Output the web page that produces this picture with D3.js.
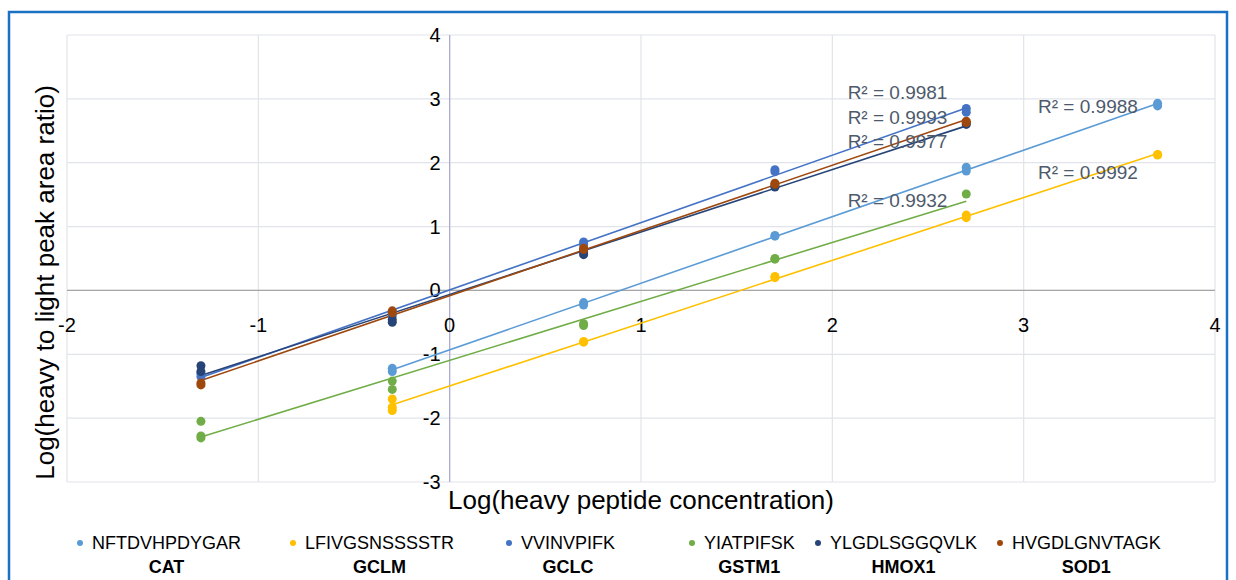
<!DOCTYPE html>
<html>
<head>
<meta charset="utf-8">
<script src="https://cdn.jsdelivr.net/npm/d3@7"></script>
<style>
  body { margin: 0; background: #fff; }
  svg { display: block; font-family: "Liberation Sans", Arial, sans-serif; }
</style>
</head>
<body>
<div id="chart"></div>
<script>
// peptides and the proteins they come from
const peptides = ['NFTDVHPDYGAR', 'LFIVGSNSSSSTR', 'VVINVPIFK', 'YIATPIFSK', 'YLGDLSGGQVLK', 'HVGDLGNVTAGK'];
const genes = ['CAT', 'GCLM', 'GCLC', 'GSTM1', 'HMOX1', 'SOD1'];
const colors = ['#5b9bd5', '#ffc000', '#4472c4', '#70ad47', '#264478', '#9e480e'];
const rSquared = ['0.9988', '0.9992', '0.9981', '0.9932', '0.9977', '0.9993'];

// [log heavy concentration, log heavy/light ratio]
const catPts = [[-0.3, -1.22], [-0.3, -1.27], [0.7, -0.19], [0.7, -0.23], [1.7, 0.85], [1.7, 0.86],
  [2.7, 1.93], [2.7, 1.87], [3.7, 2.93], [3.7, 2.89]];
const gclmPts = [[-0.3, -1.70], [-0.3, -1.83], [-0.3, -1.88], [0.7, -0.80], [0.7, -0.81], [1.7, 0.22], [1.7, 0.20],
  [2.7, 1.18], [2.7, 1.14], [3.7, 2.12], [3.7, 2.13]];
const gclcPts = [[-1.3, -1.30], [-1.3, -1.35], [-0.3, -0.36], [-0.3, -0.40], [0.7, 0.76], [0.7, 0.72],
  [1.7, 1.89], [1.7, 1.86], [2.7, 2.85], [2.7, 2.79]];
const gstm1Pts = [[-1.3, -2.05], [-1.3, -2.28], [-1.3, -2.31], [-0.3, -1.42], [-0.3, -1.55], [0.7, -0.52], [0.7, -0.55],
  [1.7, 0.49], [1.7, 0.50], [2.7, 1.51]];
const hmox1Pts = [[-1.3, -1.18], [-1.3, -1.27], [-0.3, -0.46], [-0.3, -0.50], [0.7, 0.56], [0.7, 0.60],
  [1.7, 1.62], [1.7, 1.63], [2.7, 2.60], [2.7, 2.62]];
const sod1Pts = [[-1.3, -1.45], [-1.3, -1.48], [-0.3, -0.32], [-0.3, -0.35], [0.7, 0.66], [0.7, 0.64],
  [1.7, 1.68], [1.7, 1.66], [2.7, 2.65], [2.7, 2.63]];

const xTicks = [-2, -1, 0, 1, 2, 3, 4];
const yTicks = [-3, -2, -1, 0, 1, 2, 3, 4];

// where each R² label sits, in data units (left edge, vertical middle)
const labelPos = [[3.075, 2.89], [3.075, 1.85], [2.08, 3.11], [2.08, 1.42], [2.08, 2.34], [2.08, 2.72]];

const series = [catPts, gclmPts, gclcPts, gstm1Pts, hmox1Pts, sod1Pts].map((pts, i) => ({
  peptide: peptides[i], gene: genes[i], color: colors[i], r2: rSquared[i], pts
}));

const W = 1236, H = 580;
const plot = { left: 67, right: 1215, top: 35, bottom: 482 };

const svg = d3.select('#chart').append('svg')
  .attr('width', W)
  .attr('height', H);

// outer frame
svg.append('rect')
  .attr('x', 9).attr('y', 12)
  .attr('width', 1218).attr('height', 620)
  .attr('fill', 'none')
  .attr('stroke', '#1b72c4')
  .attr('stroke-width', 2.5);

const x = d3.scaleLinear().domain([-2, 4]).range([plot.left, plot.right]);
const y = d3.scaleLinear().domain([-3, 4]).range([plot.bottom, plot.top]);

// gridlines
svg.append('g').selectAll('line').data(xTicks).join('line')
  .attr('x1', d => x(d)).attr('x2', d => x(d))
  .attr('y1', plot.top).attr('y2', plot.bottom)
  .attr('stroke', '#e1e4ea').attr('stroke-width', 1.2);
svg.append('g').selectAll('line').data(yTicks).join('line')
  .attr('x1', plot.left).attr('x2', plot.right)
  .attr('y1', d => y(d)).attr('y2', d => y(d))
  .attr('stroke', '#e1e4ea').attr('stroke-width', 1.2);

// axes crossing at zero
svg.append('line')
  .attr('x1', plot.left).attr('x2', plot.right)
  .attr('y1', y(0)).attr('y2', y(0))
  .attr('stroke', '#a6a6a6').attr('stroke-width', 1.2);
svg.append('line')
  .attr('x1', x(0)).attr('x2', x(0))
  .attr('y1', plot.top).attr('y2', plot.bottom)
  .attr('stroke', '#aaa8cf').attr('stroke-width', 1.2);

// tick labels
svg.append('g').selectAll('text').data(xTicks).join('text')
  .attr('x', d => x(d)).attr('y', y(0) + 42)
  .attr('text-anchor', 'middle')
  .attr('font-size', 20).attr('fill', '#000')
  .text(d => d);
svg.append('g').selectAll('text').data(yTicks).join('text')
  .attr('x', x(0) - 9).attr('y', d => y(d) + 7)
  .attr('text-anchor', 'end')
  .attr('font-size', 20).attr('fill', '#000')
  .text(d => d);

// axis titles
svg.append('text')
  .attr('x', 641).attr('y', 509)
  .attr('text-anchor', 'middle')
  .attr('font-size', 26).attr('fill', '#000')
  .text('Log(heavy peptide concentration)');
svg.append('text')
  .attr('transform', `translate(54,${(plot.top + plot.bottom) / 2 + 24}) rotate(-90)`)
  .attr('text-anchor', 'middle')
  .attr('font-size', 26).attr('fill', '#000')
  .text('Log(heavy to light peak area ratio)');

// least squares fit for each series
function fit(pts) {
  const mx = d3.mean(pts, p => p[0]);
  const my = d3.mean(pts, p => p[1]);
  const slope = d3.sum(pts, p => (p[0] - mx) * (p[1] - my)) / d3.sum(pts, p => (p[0] - mx) ** 2);
  const b = my - slope * mx;
  const [x0, x1] = d3.extent(pts, p => p[0]);
  return [[x0, slope * x0 + b], [x1, slope * x1 + b]];
}

const line = d3.line().x(d => x(d[0])).y(d => y(d[1]));

series.forEach(s => {
  svg.append('path')
    .datum(fit(s.pts))
    .attr('fill', 'none')
    .attr('stroke', s.color)
    .attr('stroke-width', 1.6)
    .attr('d', line);
});

series.forEach(s => {
  svg.append('g').selectAll('circle').data(s.pts).join('circle')
    .attr('cx', d => x(d[0]))
    .attr('cy', d => y(d[1]))
    .attr('r', 4.5)
    .attr('fill', s.color);
});

// R² labels
series.forEach((s, i) => {
  svg.append('text')
    .attr('x', x(labelPos[i][0]))
    .attr('y', y(labelPos[i][1]) + 7)
    .attr('font-size', 19)
    .attr('fill', '#4e5a6b')
    .text('R\u00b2 = ' + s.r2);
});

// legend
const legendX = [80, 293, 509, 692, 818, 1000];
const leg = svg.append('g').selectAll('g').data(series).join('g')
  .attr('transform', (d, i) => `translate(${legendX[i]},543)`);
leg.append('circle').attr('r', 3).attr('fill', d => d.color);
leg.append('text')
  .attr('x', 12).attr('y', 6)
  .attr('font-size', 18).attr('fill', '#000')
  .text(d => d.peptide);
leg.each(function () {
  const g = d3.select(this);
  const w = g.select('text').node().getComputedTextLength();
  g.append('text')
    .attr('x', 12 + w / 2).attr('y', 30)
    .attr('text-anchor', 'middle')
    .attr('font-size', 18).attr('font-weight', 'bold').attr('fill', '#000')
    .text(d => d.gene);
});
</script>
</body>
</html>
